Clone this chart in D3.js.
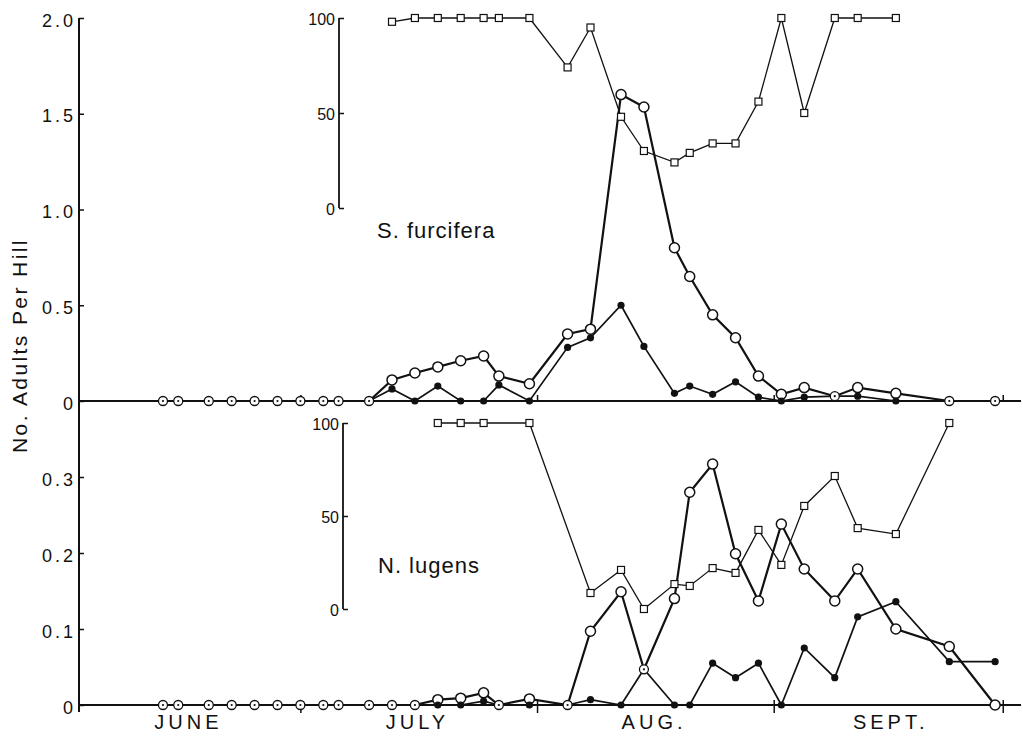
<!DOCTYPE html>
<html>
<head>
<meta charset="utf-8">
<title>S. furcifera and N. lugens</title>
<script src="https://d3js.org/d3.v7.min.js"></script>
<style>
  body { margin: 0; background: #fff; }
  svg { font-family: "Liberation Sans", Arial, sans-serif; }
  .axis .domain { display: none; }
  .axis line { stroke: #111; stroke-width: 1.5; }
  .axis text { fill: #111; font-family: "Liberation Sans", Arial, sans-serif; }
</style>
</head>
<body>
<script>

// sampling dates (month-day), shared by both panels
var sampleDates = ["06-13","06-15","06-19","06-22","06-25","06-28","07-01","07-04","07-06","07-10",
  "07-13","07-16","07-19","07-22","07-25","07-27","07-31","08-05","08-08","08-12","08-15",
  "08-19","08-21","08-24","08-27","08-30","09-02","09-05","09-09","09-12","09-17","09-24","09-30"];

// S. furcifera, adults per hill (open / filled circles) and inset percent (squares)
var sfOpen = [0,0,0,0,0,0,0,0,0,0,
  0.11,0.146,0.178,0.21,0.235,0.13,0.09,0.35,0.375,1.6,1.535,
  0.80,0.65,0.45,0.33,0.13,0.035,0.07,0.025,0.07,0.04,0,0];
var sfFilled = [0,0,0,0,0,0,0,0,0,0,
  0.063,0,0.078,0,0,0.084,0,0.28,0.33,0.5,0.285,
  0.04,0.078,0.035,0.1,0.02,0,0.02,0.025,0.025,0,0,0];
var sfPct = [null,null,null,null,null,null,null,null,null,null,
  98,100,100,100,100,100,100,74,95,48,30,
  24,29,34,34,56,100,50,100,100,100,null,null];

// N. lugens
var nlOpen = [0,0,0,0,0,0,0,0,0,0,
  0,0,0.007,0.009,0.016,0,0.008,0,0.097,0.149,0.047,
  0.14,0.28,0.317,0.199,0.137,0.238,0.179,0.137,0.179,0.1,0.077,0];
var nlFilled = [0,0,0,0,0,0,0,0,0,0,
  0,0,0,0,0.005,0,0,0,0.007,0,0.047,
  0,0,0.055,0.036,0.055,0,0.075,0.036,0.116,0.136,0.057,0.057];
var nlPct = [null,null,null,null,null,null,null,null,null,null,
  null,null,100,100,100,null,100,null,8.6,21,0,
  13.4,12.4,22,19.4,42.5,23.7,55.4,71.5,43.5,40.3,100,null];

var topTicks = [0, 0.5, 1.0, 1.5, 2.0];
var bottomTicks = [0, 0.1, 0.2, 0.3];
var pctTicks = [0, 50, 100];
var monthNames = ["JUNE", "JULY", "AUG.", "SEPT."];
var monthMids = ["06-16", "07-16", "08-16", "09-16"];
var monthStarts = ["07-01", "08-01", "09-01", "10-01"];

var parse = d3.utcParse("%m-%d");

var svg = d3.select("body").append("svg")
    .attr("width", 1023)
    .attr("height", 738);

var x = d3.scaleUtc()
    .domain([parse("06-02"), parse("10-03")])
    .range([79, 1018]);

var yTop = d3.scaleLinear().domain([0, 2]).range([401, 18]);
var yBot = d3.scaleLinear().domain([0, 0.4]).range([705, 401]);
var pTop = d3.scaleLinear().domain([0, 100]).range([208, 18]);
var pBot = d3.scaleLinear().domain([0, 100]).range([609, 423]);

function fmt(d) { return d === 0 ? "0" : d3.format(".1f")(d); }

// main y axes
[[yTop, topTicks], [yBot, bottomTicks]].forEach(function(a) {
  svg.append("g")
      .attr("class", "axis")
      .attr("transform", "translate(79,0)")
      .call(d3.axisLeft(a[0]).tickValues(a[1]).tickSize(-5).tickPadding(3).tickFormat(fmt))
    .selectAll("text")
      .attr("font-size", 18)
      .attr("letter-spacing", 3)
      .attr("dy", "0.45em");
});

svg.append("line")
    .attr("x1", 79).attr("x2", 79)
    .attr("y1", yTop(2)).attr("y2", yBot(0) + 7)
    .attr("stroke", "#111").attr("stroke-width", 2);

// zero lines
[yTop(0), yBot(0)].forEach(function(yy) {
  svg.append("line")
      .attr("x1", 79).attr("x2", 1021)
      .attr("y1", yy).attr("y2", yy)
      .attr("stroke", "#111").attr("stroke-width", 1.8);
});

// month boundary ticks
svg.append("g")
    .attr("class", "axis")
    .attr("transform", "translate(0," + yTop(0) + ")")
    .call(d3.axisTop(x).tickValues(monthStarts.map(parse)).tickSize(6).tickFormat(""));

svg.append("g")
    .attr("class", "axis")
    .attr("transform", "translate(0," + yBot(0) + ")")
    .call(d3.axisBottom(x).tickValues(monthStarts.map(parse)).tickSize(8).tickFormat(""))
    .selectAll(".tick line").attr("y1", -5);

// month labels
svg.append("g")
    .attr("class", "axis")
    .attr("transform", "translate(0," + yBot(0) + ")")
    .call(d3.axisBottom(x).tickValues(monthMids.map(parse)).tickSize(0).tickPadding(10)
      .tickFormat(function(d, i) { return monthNames[i]; }))
  .selectAll("text")
    .attr("font-size", 20)
    .attr("letter-spacing", 4)
    .attr("dx", 2);

// y title
svg.append("text")
    .attr("transform", "translate(27,453) rotate(-90)")
    .attr("font-size", 21)
    .attr("letter-spacing", 2.4)
    .attr("fill", "#111")
    .text("No. Adults Per Hill");

function drawPanel(open, filled, pct, y, py, axisX, label, labelX, labelY) {
  var g = svg.append("g");
  var pts = sampleDates.map(function(s, i) {
    return {date: parse(s), open: open[i], filled: filled[i], pct: pct[i]};
  });

  // inset axis
  g.append("g")
      .attr("class", "axis")
      .attr("transform", "translate(" + axisX + ",0)")
      .call(d3.axisLeft(py).tickValues(pctTicks).tickSize(-5).tickPadding(4))
    .selectAll("text")
      .attr("font-size", 16)
      .attr("dy", "0.4em");
  g.append("line")
      .attr("x1", axisX).attr("x2", axisX)
      .attr("y1", py(100)).attr("y2", py(0))
      .attr("stroke", "#111").attr("stroke-width", 1.8);

  g.append("text")
      .attr("x", labelX).attr("y", labelY)
      .attr("font-size", 22)
      .attr("letter-spacing", 1)
      .attr("fill", "#111")
      .text(label);

  var pctPts = pts.filter(function(d) { return d.pct != null; });

  g.append("path")
      .datum(pctPts)
      .attr("fill", "none")
      .attr("stroke", "#111")
      .attr("stroke-width", 1.3)
      .attr("d", d3.line().x(function(d) { return x(d.date); }).y(function(d) { return py(d.pct); }));

  g.append("path")
      .datum(pts)
      .attr("fill", "none")
      .attr("stroke", "#111")
      .attr("stroke-width", 1.7)
      .attr("d", d3.line().x(function(d) { return x(d.date); }).y(function(d) { return y(d.filled); }));

  g.append("path")
      .datum(pts)
      .attr("fill", "none")
      .attr("stroke", "#111")
      .attr("stroke-width", 2.2)
      .attr("d", d3.line().x(function(d) { return x(d.date); }).y(function(d) { return y(d.open); }));

  g.selectAll("rect.sq")
      .data(pctPts)
      .enter().append("rect")
      .attr("class", "sq")
      .attr("x", function(d) { return x(d.date) - 3.5; })
      .attr("y", function(d) { return py(d.pct) - 3.5; })
      .attr("width", 7)
      .attr("height", 7)
      .attr("fill", "#fff")
      .attr("stroke", "#111")
      .attr("stroke-width", 1.2);

  var same = pts.filter(function(d) { return d.open === d.filled; });
  var diff = pts.filter(function(d) { return d.open !== d.filled; });

  g.selectAll("circle.open")
      .data(diff)
      .enter().append("circle")
      .attr("class", "open")
      .attr("cx", function(d) { return x(d.date); })
      .attr("cy", function(d) { return y(d.open); })
      .attr("r", 5)
      .attr("fill", "#fff")
      .attr("stroke", "#111")
      .attr("stroke-width", 1.5);

  g.selectAll("circle.filled")
      .data(diff)
      .enter().append("circle")
      .attr("class", "filled")
      .attr("cx", function(d) { return x(d.date); })
      .attr("cy", function(d) { return y(d.filled); })
      .attr("r", 3.6)
      .attr("fill", "#111");

  g.selectAll("circle.both")
      .data(same)
      .enter().append("circle")
      .attr("class", "both")
      .attr("cx", function(d) { return x(d.date); })
      .attr("cy", function(d) { return y(d.open); })
      .attr("r", 4.5)
      .attr("fill", "#fff")
      .attr("stroke", "#111")
      .attr("stroke-width", 1.3);

  g.selectAll("circle.dot")
      .data(same)
      .enter().append("circle")
      .attr("class", "dot")
      .attr("cx", function(d) { return x(d.date); })
      .attr("cy", function(d) { return y(d.open); })
      .attr("r", 1.1)
      .attr("fill", "#111");
}

drawPanel(sfOpen, sfFilled, sfPct, yTop, pTop, 339, "S. furcifera", 377, 238);
drawPanel(nlOpen, nlFilled, nlPct, yBot, pBot, 343, "N. lugens", 378, 573);

</script>
</body>
</html>
